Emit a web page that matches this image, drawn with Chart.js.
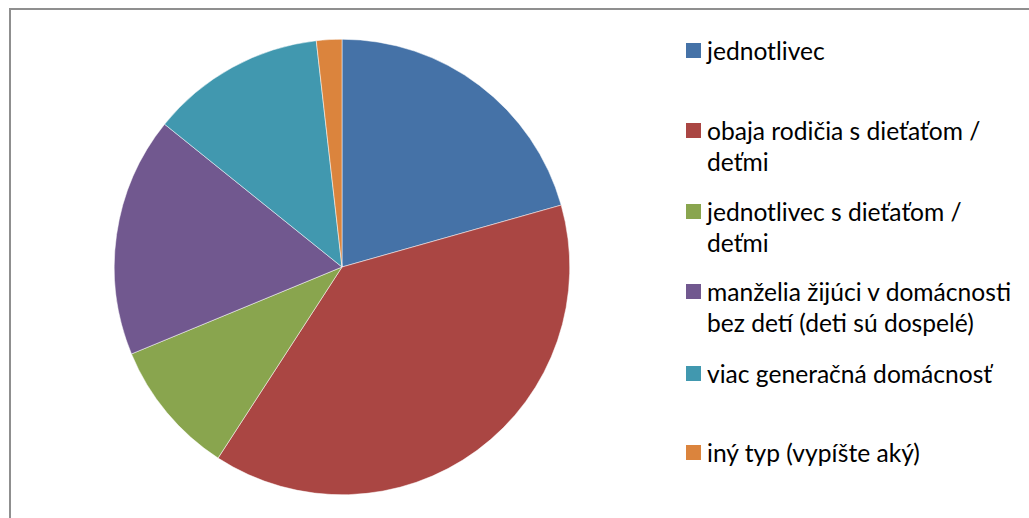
<!DOCTYPE html>
<html>
<head>
<meta charset="utf-8">
<script src="https://cdn.jsdelivr.net/npm/chart.js@4/dist/chart.umd.min.js"></script>
<style>
  html, body { margin: 0; padding: 0; background: #fff; overflow: hidden; width: 1029px; height: 518px; }
  #frame { position: absolute; left: 9px; top: 8px; width: 1100px; height: 600px; border: 2px solid #8f8f8f; box-sizing: border-box; }
  #wrap { position: absolute; left: 114px; top: 39px; width: 456px; height: 456px; }
  #legend { position: absolute; left: 686px; top: 0; width: 340px; height: 518px; font-family: Lato, "Open Sans", sans-serif; font-size: 24.6px; color: #000; }
  .box { position: absolute; left: 0; width: 15px; height: 15px; }
  .txt { position: absolute; left: 21px; line-height: 31px; white-space: nowrap; }
</style>
</head>
<body>
<div id="frame"></div>
<div id="wrap"><canvas id="c"></canvas></div>
<div id="legend"></div>
<script>
const categories = [
  ["jednotlivec"],
  ["obaja rodičia s dieťaťom /", "deťmi"],
  ["jednotlivec s dieťaťom /", "deťmi"],
  ["manželia žijúci v domácnosti", "bez detí (deti sú dospelé)"],
  ["viac generačná domácnosť"],
  ["iný typ (vypíšte aký)"]
];
const values = [20.6, 38.5, 9.6, 17.0, 12.4, 1.8];
const colors = ["#4572A7", "#AA4643", "#89A54E", "#71588F", "#4198AF", "#DB843D"];
const legendCenters = [50, 130, 211, 291, 373, 452];

new Chart(document.getElementById('c'), {
  type: 'pie',
  data: {
    labels: categories.map(l => l.join(' ')),
    datasets: [{
      data: values,
      backgroundColor: colors,
      borderColor: '#ffffff',
      borderWidth: 0.5
    }]
  },
  options: {
    responsive: true,
    maintainAspectRatio: false,
    animation: false,
    layout: { padding: 0 },
    plugins: { legend: { display: false }, tooltip: { enabled: false } }
  }
});

const lg = document.getElementById('legend');
categories.forEach((lines, i) => {
  const c = legendCenters[i];
  const box = document.createElement('div');
  box.className = 'box';
  box.style.top = (c - 7.5) + 'px';
  box.style.background = colors[i];
  lg.appendChild(box);
  const t = document.createElement('div');
  t.className = 'txt';
  t.style.top = (c - 15.5) + 'px';
  lines.forEach((s, k) => {
    if (k) t.appendChild(document.createElement('br'));
    t.appendChild(document.createTextNode(s));
  });
  lg.appendChild(t);
});
</script>
</body>
</html>
